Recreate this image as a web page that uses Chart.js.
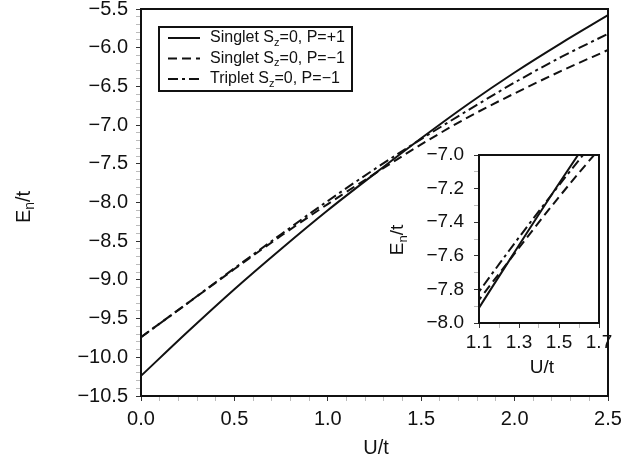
<!DOCTYPE html>
<html>
<head>
<meta charset="utf-8">
<title>Lowest levels E_n/t vs U/t</title>
<script src="https://cdn.jsdelivr.net/npm/chart.js@4.4.1/dist/chart.umd.min.js"></script>
<style>
    html, body { margin: 0; padding: 0; background: #fff; }
    #wrap { position: relative; width: 635px; height: 465px; }
    #mainChart { position: absolute; left: 0; top: 0; }
    #insetChart { position: absolute; left: 370px; top: 140px; }
</style>
</head>
<body>
<div id="wrap">
    <canvas id="mainChart" width="635" height="465"></canvas>
    <canvas id="insetChart" width="260" height="250"></canvas>
</div>
<script>
// --- Data: energies of the three lowest states vs U/t ---
const uValues      = [0, 0.25, 0.5, 0.75, 1.0, 1.25, 1.5, 1.75, 2.0, 2.25, 2.5];
const singletPlus  = [-10.24, -9.67, -9.12, -8.60, -8.10, -7.63, -7.17, -6.73, -6.32, -5.94, -5.58];
const singletMinus = [-9.74, -9.30, -8.86, -8.43, -8.02, -7.63, -7.25, -6.90, -6.59, -6.30, -6.03];
const tripletMinus = [-9.74, -9.30, -8.85, -8.41, -7.98, -7.57, -7.18, -6.81, -6.45, -6.12, -5.82];
const seriesNames  = ['Singlet S_z=0, P=+1', 'Singlet S_z=0, P=\u22121', 'Triplet S_z=0, P=\u22121'];

// tick labels (minor ticks every 0.1 in between)
const mainXTicks  = [0.0, 0.5, 1.0, 1.5, 2.0, 2.5];
const mainYTicks  = [-10.5, -10.0, -9.5, -9.0, -8.5, -8.0, -7.5, -7.0, -6.5, -6.0, -5.5];
const insetXTicks = [1.1, 1.3, 1.5, 1.7];
const insetYTicks = [-8.0, -7.8, -7.6, -7.4, -7.2, -7.0];

const FONT = '"Liberation Sans", Arial, Helvetica, sans-serif';
const INK = '#111';

const isLabelled = (list, v) => list.some(t => Math.abs(t - v) < 1e-6);
const fmt = v => v.toFixed(1).replace('-', '\u2212');

// draws "E_n/t" style text, the char after "_" is set as a subscript
function drawRich(ctx, text, x, y, size, align) {
    const parts = [];
    for (let i = 0; i < text.length; i++) {
        if (text[i] === '_' && i + 1 < text.length) {
            parts.push({ t: text[i + 1], sub: true });
            i++;
        } else if (parts.length && !parts[parts.length - 1].sub) {
            parts[parts.length - 1].t += text[i];
        } else {
            parts.push({ t: text[i], sub: false });
        }
    }
    const big = size + 'px ' + FONT;
    const small = Math.round(size * 0.68) + 'px ' + FONT;
    let total = 0;
    parts.forEach(p => {
        ctx.font = p.sub ? small : big;
        p.w = ctx.measureText(p.t).width;
        total += p.w;
    });
    let cx = align === 'center' ? x - total / 2 : x;
    ctx.textAlign = 'left';
    ctx.textBaseline = 'middle';
    ctx.fillStyle = INK;
    parts.forEach(p => {
        ctx.font = p.sub ? small : big;
        ctx.fillText(p.t, cx, p.sub ? y + size * 0.3 : y);
        cx += p.w;
    });
}

function makeDatasets() {
    const pts = ys => uValues.map((u, i) => ({ x: u, y: ys[i] }));
    return [
        { label: seriesNames[0], data: pts(singletPlus),  borderDash: [] },
        { label: seriesNames[1], data: pts(singletMinus), borderDash: [9, 5] },
        { label: seriesNames[2], data: pts(tripletMinus), borderDash: [10, 4, 3, 4] }
    ].map(d => Object.assign(d, {
        borderColor: INK,
        borderWidth: 2,
        pointRadius: 0,
        cubicInterpolationMode: 'monotone',
        fill: false,
        clip: 0
    }));
}

// linear axis with short outside ticks every 0.1, labels only on the listed values
function axis(min, max, labels, size, tickPad, fitFn) {
    return {
        type: 'linear',
        min: min,
        max: max,
        afterFit: s => {
            fitFn(s);
            // no extra room for the end labels, the layout padding handles it
            s.paddingTop = 0;
            s.paddingBottom = 0;
            s.paddingLeft = 0;
            s.paddingRight = 0;
        },
        border: { display: false },
        grid: {
            drawOnChartArea: false,
            drawTicks: true,
            tickLength: 5,
            tickWidth: 1,
            tickColor: ctx => isLabelled(labels, ctx.tick.value) ? '#333' : '#bbb'
        },
        ticks: {
            stepSize: 0.1,
            autoSkip: false,
            maxRotation: 0,
            padding: tickPad,
            color: INK,
            font: { family: FONT, size: size, lineHeight: 1.0 },
            callback: v => isLabelled(labels, v) ? fmt(v) : ''
        }
    };
}

// frame around the plot area plus axis titles
function framePlugin(id, titles) {
    return {
        id: id,
        afterDraw(chart) {
            const { ctx, chartArea: a } = chart;
            ctx.save();
            ctx.strokeStyle = INK;
            ctx.lineWidth = 2;
            ctx.strokeRect(a.left, a.top, a.right - a.left, a.bottom - a.top);
            drawRich(ctx, 'U/t', titles.x[0], titles.x[1], titles.size, 'center');
            ctx.translate(titles.y[0], titles.y[1]);
            ctx.rotate(-Math.PI / 2);
            drawRich(ctx, 'E_n/t', 0, 0, titles.size, 'center');
            ctx.restore();
        }
    };
}

// legend box in the upper-left corner of the main plot
const legendPlugin = {
    id: 'boxLegend',
    afterDraw(chart) {
        const { ctx, chartArea: a } = chart;
        const x0 = a.left + 18, y0 = a.top + 18;
        ctx.save();
        ctx.strokeStyle = INK;
        ctx.lineWidth = 2;
        ctx.strokeRect(x0, y0, 193, 64);
        chart.data.datasets.forEach((ds, i) => {
            const y = y0 + 11 + i * 20.5;
            ctx.beginPath();
            ctx.setLineDash(ds.borderDash);
            ctx.lineWidth = 2;
            ctx.moveTo(x0 + 9, y);
            ctx.lineTo(x0 + 41, y);
            ctx.stroke();
            ctx.setLineDash([]);
            drawRich(ctx, ds.label, x0 + 51, y, 16, 'left');
        });
        ctx.restore();
    }
};

document.addEventListener('DOMContentLoaded', () => {
    // --- Main chart ---
    new Chart(document.getElementById('mainChart'), {
        type: 'line',
        data: { datasets: makeDatasets() },
        options: {
            responsive: false,
            animation: false,
            layout: { padding: { left: 0, right: 27, top: 9, bottom: 0 } },
            plugins: { legend: { display: false }, tooltip: { enabled: false } },
            scales: {
                x: axis(0, 2.5, mainXTicks, 20, 8, s => { s.height = 69; }),
                y: axis(-10.5, -5.5, mainYTicks, 20, 8, s => { s.width = 141; })
            }
        },
        plugins: [framePlugin('mainFrame', { x: [376, 448], y: [24, 207], size: 20 }), legendPlugin]
    });

    // --- Inset: zoom on the crossing region ---
    new Chart(document.getElementById('insetChart'), {
        type: 'line',
        data: { datasets: makeDatasets() },
        options: {
            responsive: false,
            animation: false,
            layout: { padding: { left: 0, right: 31, top: 15, bottom: 0 } },
            plugins: { legend: { display: false }, tooltip: { enabled: false } },
            scales: {
                x: axis(1.1, 1.7, insetXTicks, 19, 5, s => { s.height = 67; }),
                y: axis(-8.0, -7.0, insetYTicks, 19, 10, s => { s.width = 109; })
            }
        },
        plugins: [framePlugin('insetFrame', { x: [172, 228], y: [28, 100], size: 19 })]
    });
});
</script>
</body>
</html>
